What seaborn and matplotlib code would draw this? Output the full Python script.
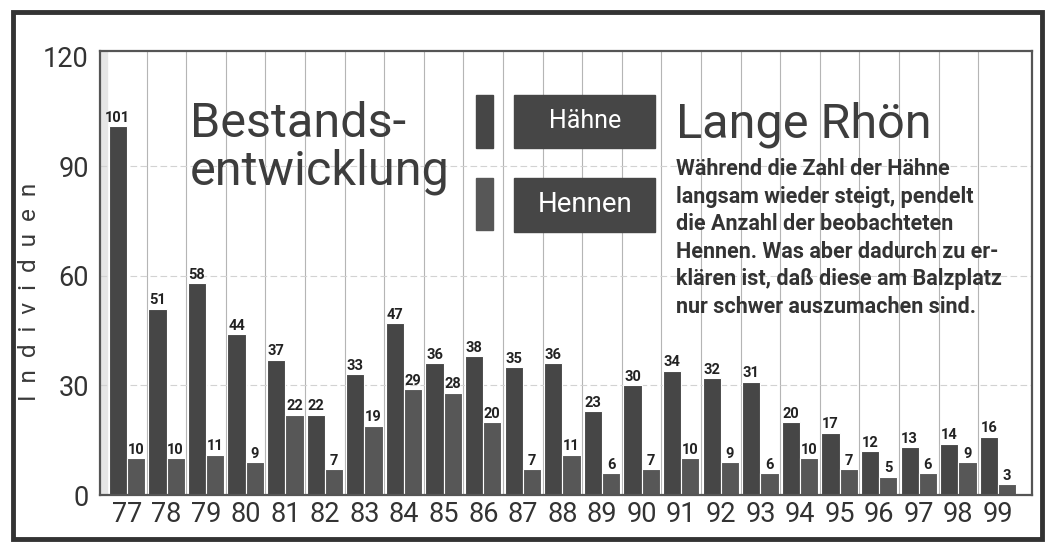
import matplotlib
matplotlib.use("Agg")
import matplotlib.pyplot as plt
import seaborn as sns
import pandas as pd
from matplotlib.patches import Rectangle

# ------------------------------
# Data
# ------------------------------
years = ["77", "78", "79", "80", "81", "82", "83", "84", "85", "86", "87", "88",
         "89", "90", "91", "92", "93", "94", "95", "96", "97", "98", "99"]
haehne = [101, 51, 58, 44, 37, 22, 33, 47, 36, 38, 35, 36,
          23, 30, 34, 32, 31, 20, 17, 12, 13, 14, 16]
hennen = [10, 10, 11, 9, 22, 7, 19, 29, 28, 20, 7, 11,
          6, 7, 10, 9, 6, 10, 7, 5, 6, 9, 3]
y_ticks = [0, 30, 60, 90, 120]

df = pd.DataFrame({
    "Jahr": years * 2,
    "Anzahl": haehne + hennen,
    "Gruppe": ["Hähne"] * len(years) + ["Hennen"] * len(years),
})

COL_H = "#464646"
COL_F = "#575757"
FONT = ["Roboto", "DejaVu Sans"]

sns.set_style("white")
plt.rcParams["font.family"] = FONT

W, H = 1052, 542
fig = plt.figure(figsize=(W / 100, H / 100), dpi=100)


def fx(px):
    return px / W


def fy(py):
    return 1 - py / H


ax = fig.add_axes([fx(100), fy(495), fx(1032) - fx(100), fy(51) - fy(495)])

sns.barplot(data=df, x="Jahr", y="Anzahl", hue="Gruppe",
            palette=[COL_H, COL_F], width=0.92, saturation=1,
            edgecolor="white", linewidth=0.8, ax=ax, legend=False)

ax.set_xlim(-0.68, 22.86)
ax.set_ylim(0, 121.5)
ax.axvspan(-0.68, -0.5, color="#e6e6e6", zorder=0)

# value labels
for cont in ax.containers:
    ax.bar_label(cont, fmt="%d", padding=1, fontsize=10.5, fontweight="bold",
                 color="#222222", family=FONT)

# grid
for i in range(len(years) - 1):
    ax.axvline(i + 0.5, color="#b5b5b5", lw=0.8, zorder=0)
for v in y_ticks[1:-1]:
    ax.axhline(v, color="#d2d2d2", lw=0.8, ls=(0, (6, 3)), zorder=0)

ax.set_yticks(y_ticks)
ax.tick_params(axis="both", length=0, labelsize=19.5, colors="#333333", pad=8)
ax.tick_params(axis="x", pad=4)
ax.set_xlabel("")
ax.set_ylabel("")
for sp in ax.spines.values():
    sp.set_color("#555555")
    sp.set_linewidth(1.6)

fig.text(fx(30), fy(292), "I  n  d  i  v  i  d  u  e  n", rotation=90, fontsize=17.5,
         color="#3a3a3a", ha="center", va="center")

# titles
fig.text(fx(190), fy(137), "Bestands-", fontsize=35, color="#3d3d3d",
         ha="left", va="baseline")
fig.text(fx(190), fy(185), "entwicklung", fontsize=35, color="#3d3d3d",
         ha="left", va="baseline")
fig.text(fx(676), fy(137), "Lange Rhön", fontsize=35, color="#3d3d3d",
         ha="left", va="baseline")

# legend boxes
fig.patches.append(Rectangle((fx(476), fy(148)), fx(17), fy(95) - fy(148),
                             transform=fig.transFigure, color=COL_H))
fig.patches.append(Rectangle((fx(476), fy(230)), fx(17), fy(178) - fy(230),
                             transform=fig.transFigure, color=COL_F))
fig.patches.append(Rectangle((fx(514), fy(148)), fx(141), fy(95) - fy(148),
                             transform=fig.transFigure, color=COL_H))
fig.patches.append(Rectangle((fx(514), fy(232)), fx(141), fy(178) - fy(232),
                             transform=fig.transFigure, color=COL_H))
fig.text(fx(585), fy(121), "Hähne", fontsize=18, color="white",
         ha="center", va="center")
fig.text(fx(585), fy(204), "Hennen", fontsize=20, color="white",
         ha="center", va="center")

# paragraph
para = ("Während die Zahl der Hähne\n"
        "langsam wieder steigt, pendelt\n"
        "die Anzahl der beobachteten\n"
        "Hennen. Was aber dadurch zu er-\n"
        "klären ist, daß diese am Balzplatz\n"
        "nur schwer auszumachen sind.")
fig.text(fx(676), fy(158), para, fontsize=15.5, fontweight="bold",
         color="#333333", ha="left", va="top", linespacing=1.33)

# outer frame
fig.patches.append(Rectangle((fx(13), fy(539)), fx(1042) - fx(13), fy(12) - fy(539),
                             transform=fig.transFigure, fill=False,
                             edgecolor="#333333", lw=3.5))

fig.savefig("out.png", dpi=100)
